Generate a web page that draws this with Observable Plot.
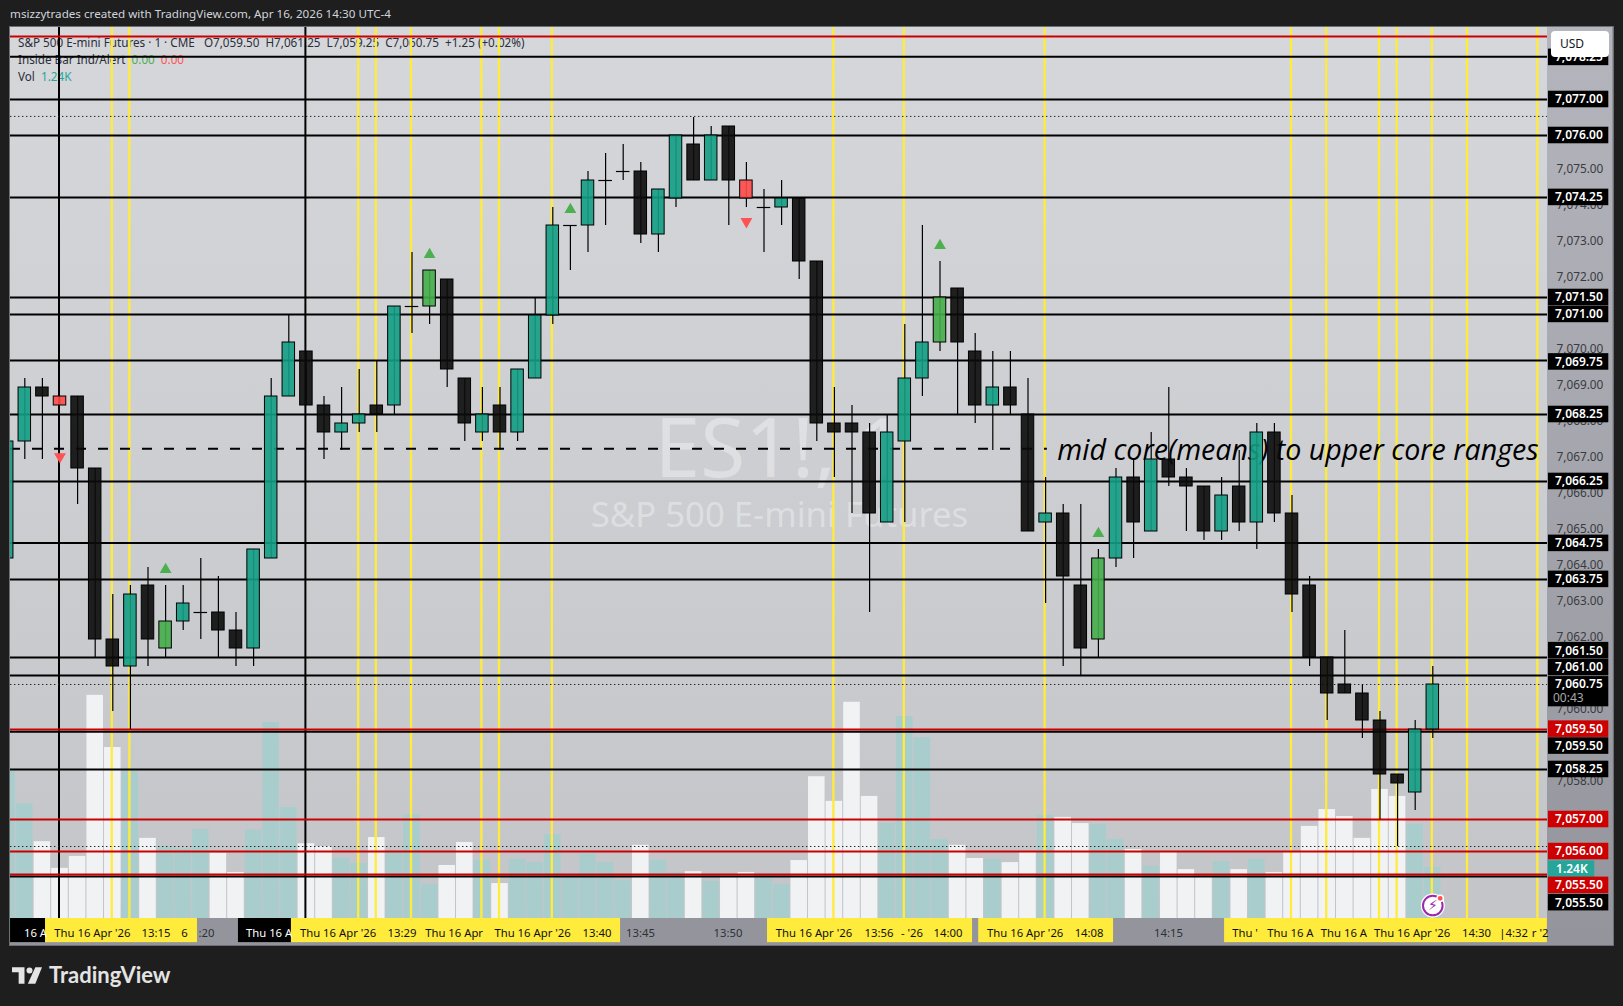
<!DOCTYPE html>
<html>
<head>
<meta charset="utf-8">
<script src="https://cdn.jsdelivr.net/npm/d3@7"></script>
<script src="https://cdn.jsdelivr.net/npm/@observablehq/plot@0.6"></script>
<style>
html,body{margin:0;padding:0;background:#1e1e1e;width:1623px;height:1006px;overflow:hidden;font-family:"Noto Sans",sans-serif}
.abs{position:absolute;white-space:pre}
#chart{position:absolute;left:0;top:0}
#chart svg{display:block}
</style>
</head>
<body>
<div class="abs" id="frame" style="left:9px;top:26px;width:1603px;height:918px;border:1px solid #6e6f74;background:#94959c"></div>
<div class="abs" id="pane" style="left:10px;top:27px;width:1537px;height:891px;background:linear-gradient(#d6d7db,#c4c5c9)"></div>
<div class="abs" id="scale" style="left:1547px;top:27px;width:65px;height:918px;background:linear-gradient(#b4b5bd,#94959c)"></div>
<div class="abs" style="left:10px;top:6px;font-size:11.65px;color:#d1d4dc">msizzytrades created with TradingView.com, Apr 16, 2026 14:30 UTC-4</div>
<div class="abs" style="left:18px;top:33.5px;font-size:11.7px;color:#2a2e39">S&amp;P 500 E-mini Futures · 1 · CME   O7,059.50  H7,061.25  L7,059.25  C7,060.75  +1.25 (+0.02%)</div>
<div class="abs" style="left:18px;top:50.5px;font-size:11.7px;color:#2a2e39">Inside Bar Ind/Alert  <span style="color:#4caf50">0.00</span>  <span style="color:#ff5252">0.00</span></div>
<div class="abs" style="left:18px;top:67.5px;font-size:11.7px;color:#2a2e39">Vol  <span style="color:#26a69a">1.24K</span></div>
<div id="chart"></div>
<div class="abs" style="left:1551px;top:31px;width:58px;height:26px;background:#fff;border-radius:4px;font-size:12px;line-height:26px;color:#131722;text-indent:9px">USD</div>
<svg class="abs" style="left:12px;top:967px" width="30" height="17" viewBox="0 0 36 20" fill="#e4e4e4"><path d="M15 0H0v6h8v14h7z"/><circle cx="21" cy="4" r="3.6"/><path d="M28 0h8l-8 20h-9z"/></svg>
<div class="abs" style="left:49px;top:961px;font-family:Lato,sans-serif;font-weight:700;font-size:22px;color:#e4e4e4">TradingView</div>
<script>
const kinds = "u u d r d d d u d g u u d d u u u d d u u d u u g d d u d u u u u u u u d u u d u d r u u d d d d d u u u g d d u d d u d d g u d u d d d u d u d d d d d d d d u u".split(" ");
const bodyTop = [7067.5,7069,7069,7068.75,7068.75,7066.75,7062,7063.25,7063.5,7062.5,7063,7062.75,7062.75,7062.25,7064.5,7068.75,7070.25,7070,7068.5,7068,7068.25,7068.5,7071.25,7071.25,7072.25,7072,7069.25,7068.25,7068.5,7069.5,7071,7073.5,7073.5,7074.75,7074.75,7075,7075,7074.5,7076,7075.75,7076,7076.25,7074.75,7074,7074.25,7074.25,7072.5,7068,7068,7067.75,7067.75,7069.25,7070.25,7071.5,7071.75,7070,7069,7069,7068.25,7065.5,7065.5,7063.5,7064.25,7066.5,7066.5,7067,7067,7066.5,7066.25,7066,7066.25,7067.75,7067.75,7065.5,7063.5,7061.5,7060.75,7060.5,7059.75,7058.25,7059.5,7060.75];
const bodyBottom = [7064.25,7067.5,7068.75,7068.5,7066.75,7062,7061.25,7061.25,7062,7061.75,7062.5,7062.75,7062.25,7061.75,7061.75,7064.25,7068.75,7068.5,7067.75,7067.75,7068,7068.25,7068.5,7071.25,7071.25,7069.5,7068,7067.75,7067.75,7067.75,7069.25,7071,7073.5,7073.5,7074.75,7075,7073.25,7073.25,7074.25,7074.75,7074.75,7074.75,7074.25,7074,7074,7072.5,7068,7067.75,7067.75,7065.5,7065.25,7067.5,7069.25,7070.25,7070.25,7068.5,7068.5,7068.5,7065,7065.25,7063.75,7061.75,7062,7064.25,7065.25,7065,7066.5,7066.25,7065,7065,7065.25,7065.25,7065.5,7063.25,7061.5,7060.5,7060.5,7059.75,7058.25,7058,7057.75,7059.5];
const wickHigh = [7067.5,7069.25,7069.25,7068.75,7068.75,7066.75,7063.25,7063.5,7064,7063.5,7063.5,7064.25,7063.75,7062.75,7064.5,7069.25,7071,7070,7068.75,7069,7069.5,7069.75,7071.25,7072.75,7072.25,7072,7069.25,7069,7069,7069.5,7071.5,7074,7073.5,7075,7075.5,7075.75,7075.25,7074.5,7076,7076.5,7076.25,7076.25,7075.25,7074.5,7074.75,7074.25,7072.5,7069,7068.5,7068,7068.25,7070.75,7073.5,7072.5,7071.75,7070.5,7070,7070,7069.25,7066.5,7065.75,7065.75,7064.5,7066.75,7067,7067.75,7069,7066.75,7066.25,7066.5,7067.25,7068,7068,7066,7063.75,7061.5,7062.25,7060.75,7060,7058.25,7059.75,7061.25];
const wickLow = [7064.25,7067,7067,7068.5,7065.75,7061.5,7060,7059.5,7061.25,7061.5,7062.25,7062,7061.5,7061.25,7061.25,7064.25,7068.75,7068.5,7067,7067.25,7067.75,7067.75,7068.25,7070.5,7070.75,7069,7067.5,7067.5,7067.25,7067.5,7069.25,7070.75,7072.25,7072.75,7073.5,7074.75,7073,7072.75,7074,7074.75,7074.75,7073.5,7074,7072.75,7073.5,7072,7067.5,7066.5,7065.5,7062.75,7065.25,7065.25,7068.75,7070,7068.25,7068,7067.25,7068.25,7065,7063,7061.25,7061,7061.5,7064,7064.25,7065,7066.25,7065,7064.75,7064.75,7065,7064.5,7065.25,7062.75,7061.25,7059.75,7060.5,7059.25,7057,7056.25,7057.25,7059.25];
const volumeK = [3.58,2.79,1.87,1.22,1.51,5.43,4.16,3.58,1.95,1.74,1.69,2.17,1.59,1.12,2.15,4.77,2.70,1.82,1.75,1.46,1.34,1.97,1.65,2.53,0.83,1.29,1.85,1.41,0.85,1.44,1.36,2.04,1.00,1.57,1.36,0.92,1.78,1.41,1.12,1.14,0.90,1.05,1.12,0.97,0.83,1.41,3.45,2.85,5.26,2.97,2.31,4.91,4.40,1.92,1.78,1.46,1.44,1.36,1.61,2.51,2.46,2.31,2.29,1.92,1.68,1.27,1.61,1.19,1.01,1.39,1.19,1.44,1.12,1.61,2.24,2.65,2.48,1.95,3.14,2.97,2.29,1.24];

const blackLevels = [7078.19,7077,7076,7074.28,7071.5,7071.03,7069.75,7068.25,7066.39,7064.68,7063.67,7061.5,7061,7059.44,7058.39,7055.42];
const redLevels = [7078.75,7059.5,7057,7056.11,7055.47];
const dottedLevels = [7076.53,7060.75,7056.25];
const dashedLevel = 7067.3;
const dashedEndBar = 58.1;
const blackVerticalBars = [2,16];
const yellowVerticalBars = [5,6,19,20,22,26,27,30,46,50,58,72,74,77,78,80,82,86];
const upMarkerBars = [8,23,31,52,61];
const upMarkerPrices = [7063.94,7072.69,7073.94,7072.94,7064.94];
const downMarkerBars = [2,41];
const downMarkerPrices = [7067.08,7073.61];

const priceTicks = [7075,7074,7073,7072,7070,7069,7068,7067,7066,7065,7064,7063,7062,7060,7058];
const tagTexts = ["7,078.25","7,077.00","7,076.00","7,074.25","7,071.50","7,071.00","7,069.75","7,068.25","7,066.25","7,064.75","7,063.75","7,061.50","7,061.00","7,059.50","7,059.50","7,058.25","7,057.00","7,056.00","1.24K","7,055.50","7,055.50"];
const tagPrices = [7078.17,7077,7076,7074.28,7071.5,7071.03,7069.71,7068.25,7066.39,7064.67,7063.67,7061.69,7061.22,7059.51,7059.04,7058.39,7057,7056.11,7055.62,7055.17,7054.69];
const tagKinds = ["k","k","k","k","k","k","k","k","k","k","k","k","k","r","k","k","r","r","t","r","k"];

const axisBandEdges = [-0.81,1.18,9.81,12.14,15.15,33.85,42.2,53.85,54.2,61.86,68.17,86.51];
const axisBands = [[0,1,"#000"],[1,2,"#ffeb3b"],[3,4,"#000"],[4,5,"#ffeb3b"],[6,7,"#ffeb3b"],[8,9,"#ffeb3b"],[10,11,"#ffeb3b"]];
const timeTexts = ["16 A","Thu 16 Apr '26","13:15","6",":20","Thu 16 A","Thu 16 Apr '26","13:29","Thu 16 Apr","Thu 16 Apr '26","13:40","13:45","13:50","Thu 16 Apr '26","13:56","- '26","14:00","Thu 16 Apr '26","14:08","14:15","Thu '","Thu 16 A","Thu 16 A","Thu 16 Apr '26","14:30","|4:32","r '2"];
const timeBars = [0.61,3.84,7.45,9.07,10.32,13.88,17.8,21.43,24.39,28.85,32.51,34.98,39.95,44.84,48.53,50.41,52.45,56.84,60.47,64.98,69.33,71.91,74.95,78.82,82.48,84.59,86.1];
const timeKinds = ["w","y","y","y","g","w","y","y","y","y","y","g","g","y","y","y","y","y","y","g","y","y","y","y","y","y","y"];

const bars = kinds.map((k,i)=>({i:i-1,k,top:bodyTop[i],bottom:bodyBottom[i],hi:wickHigh[i],lo:wickLow[i],vol:volumeK[i]}));
const fills = {u:"#129d84",d:"#0b0b0b",g:"#45ad4a",r:"#ff4a4a"};
const volFloor = 7054.25, pricePerK = 1.1417;
const halfBody = 0.355, halfVol = 0.47;
const font = '"Noto Sans",sans-serif';
const lastBar = 80;

const chart = Plot.plot({
  width:1623,height:1006,
  marginLeft:10,marginRight:76,marginTop:27,marginBottom:88,
  style:{background:"transparent",fontFamily:font,overflow:"visible"},
  x:{type:"linear",domain:[-0.8125,86.517],axis:null},
  y:{type:"linear",domain:[7054.25,7079],axis:null},
  marks:[
    Plot.text(["ES1!, 1"],{x:[42.88],y:[7067.25],fontSize:82,fill:"#fff",fillOpacity:0.36,text:d=>d}),
    Plot.text(["S&P 500 E-mini Futures"],{x:[42.88],y:[7065.44],fontSize:34.7,fill:"#fff",fillOpacity:0.36,text:d=>d}),
    Plot.rect(bars,{x1:d=>d.i-halfVol,x2:d=>d.i+halfVol,y1:volFloor,y2:d=>volFloor+d.vol*pricePerK,
      fill:d=>(d.k==="u"||d.k==="g")?"#a9cdcd":"#f1f2f4",clip:true}),
    Plot.ruleX(yellowVerticalBars,{x:d=>d,stroke:"#ffeb3b",strokeWidth:2.3,dx:-1}),
    Plot.ruleX(blackVerticalBars,{x:d=>d,stroke:"#000",strokeWidth:2,dx:-1}),
    Plot.ruleY(blackLevels,{y:d=>d,stroke:"#000",strokeWidth:2}),
    Plot.ruleY(redLevels,{y:d=>d,stroke:"#cc0000",strokeWidth:2}),
    Plot.ruleY(dottedLevels,{y:d=>d,stroke:"#222",strokeWidth:1,strokeDasharray:"1.4,2.6"}),
    Plot.ruleY([dashedLevel],{y:d=>d,x1:-0.8125,x2:dashedEndBar,stroke:"#000",strokeWidth:2,strokeDasharray:"10,12"}),
    Plot.text(["mid core(means) to upper core ranges"],{x:[72.34],y:[7067.3],dy:2,text:d=>d,fontSize:28.6,fontStyle:"italic",fontFamily:'"Open Sans",sans-serif',fill:"#000"}),
    Plot.ruleX(bars,{x:"i",y1:"lo",y2:"hi",stroke:"#000",strokeWidth:1.2,clip:true}),
    Plot.rect(bars.filter(d=>d.top>d.bottom),{x1:d=>d.i-halfBody,x2:d=>d.i+halfBody,y1:"bottom",y2:"top",
      fill:d=>fills[d.k],fillOpacity:0.9,stroke:"#000",strokeWidth:1,clip:true}),
    Plot.ruleY(bars.filter(d=>d.top===d.bottom),{y:"top",x1:d=>d.i-halfBody-0.03,x2:d=>d.i+halfBody+0.03,stroke:"#000",strokeWidth:1.2}),
    Plot.dot(upMarkerBars,{x:d=>d,y:(d,i)=>upMarkerPrices[i],symbol:"triangle",r:4.4,fill:"#4caf50"}),
    Plot.dot(downMarkerBars,{x:d=>d,y:(d,i)=>downMarkerPrices[i],symbol:"triangle",r:4.4,fill:"#ff5252",rotate:180}),
    // lightning badge on the last bar
    Plot.dot([lastBar],{x:d=>d,y:[7054.61],r:12,fill:"#fff"}),
    Plot.dot([lastBar],{x:d=>d,y:[7054.61],r:9.8,fill:"#fff",stroke:"#9c27b0",strokeWidth:2}),
    Plot.text(["\u26A1"],{x:[lastBar],y:[7054.61],text:d=>d,fontFamily:'"DejaVu Sans"',fontSize:14,fill:"#9c27b0"}),
    Plot.dot([lastBar],{x:[lastBar+0.42],y:[7054.81],r:3.2,fill:"#ff5252",stroke:"#fff"}),
    // price scale
    Plot.axisY(priceTicks,{anchor:"right",label:null,tickSize:0,tickPadding:9,dy:-2,tickFormat:d3.format(",.2f"),fontSize:11.8,fill:"#3a3b40"}),
    Plot.rect(tagPrices,{x1:86.57,x2:(d,i)=>tagKinds[i]==="t"?89.2:90,y1:d=>d-0.23,y2:d=>d+0.23,
      fill:(d,i)=>({k:"#000",r:"#cc0000",t:"#26a69a"})[tagKinds[i]]}),
    Plot.rect([7060.75],{x1:86.57,x2:90,y1:7060.13,y2:7060.97,fill:"#000"}),
    Plot.text(tagTexts,{x:(d,i)=>tagKinds[i]==="t"?87.9:88.3,y:(d,i)=>tagPrices[i],text:d=>d,fill:"#fff",fontWeight:"600",fontSize:12}),
    Plot.text(["7,060.75"],{x:[88.3],y:[7060.75],text:d=>d,fill:"#fff",fontWeight:"600",fontSize:12}),
    Plot.text(["00:43"],{x:[87.7],y:[7060.36],text:d=>d,fill:"#a8a8a8",fontSize:12}),
    // time scale
    Plot.rect(axisBands,{x1:d=>axisBandEdges[d[0]],x2:d=>axisBandEdges[d[1]],y1:7053.58,y2:7054.25,fill:d=>d[2]}),
    Plot.text(timeTexts,{x:(d,i)=>timeBars[i],frameAnchor:"bottom",dy:18,text:d=>d,fontSize:11.3,
      fill:(d,i)=>({w:"#fff",y:"#111",g:"#2f3036"})[timeKinds[i]],fontWeight:(d,i)=>timeKinds[i]==="w"?"600":"400"})
  ]
});
document.getElementById("chart").append(chart);
</script>
</body>
</html>
